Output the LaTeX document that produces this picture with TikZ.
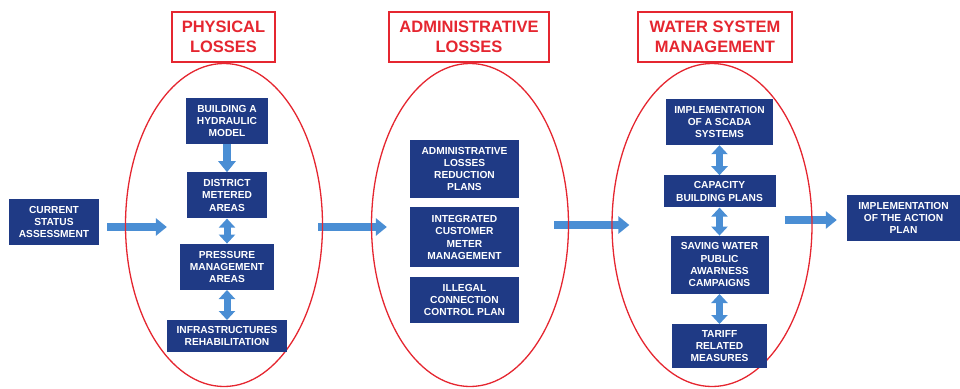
\documentclass[tikz,border=0pt]{standalone}
\usepackage{fontspec}
\setmainfont{Liberation Sans}
\usepackage{xcolor}
\usepackage{tikz}
\usetikzlibrary{backgrounds}
\usetikzlibrary{positioning}
\usetikzlibrary{shapes.geometric}
\usetikzlibrary{arrows.meta}
\usetikzlibrary{calc}
\definecolor{boxblue}{HTML}{1F3A85}
\definecolor{arrblue}{HTML}{4A8ED4}
\definecolor{lossred}{HTML}{E52630}
\tikzset{blk/.style={fill=boxblue, text=white, font=\fontsize{10.2}{12.3}\selectfont\bfseries, align=center, inner sep=2pt, minimum height=46pt}}
\tikzset{ttl/.style={draw=lossred, line width=1.5pt, text=lossred, font=\fontsize{16.5}{20}\selectfont\bfseries, align=center, minimum height=50pt, inner sep=2pt}}
\tikzset{oval/.style={draw=lossred, line width=1.3pt, ellipse, inner sep=0pt, minimum width=197pt, minimum height=323pt}}
\tikzset{bigarr/.style={draw=arrblue, line width=7.5pt, -{Triangle[length=11pt, width=17pt]}}}
\tikzset{dblarr/.style={draw=arrblue, line width=7pt, {Triangle[length=9pt, width=16pt]}-{Triangle[length=9pt, width=16pt]}}}

\begin{document}
\begin{tikzpicture}[x=1pt, y=-1pt]
\useasboundingbox (0,0) rectangle (960,388);
% ovals and titles
\node [oval] (e1) at (224,225) {};
\node [oval] (e2) at (470,225) {};
\node [oval, minimum width=200pt] (e3) at (712,225) {};
\node [ttl, minimum width=103pt] (t1) at (223.5,37) {PHYSICAL\\LOSSES};
\node [ttl, minimum width=160pt] (t2) at (469,37) {ADMINISTRATIVE\\LOSSES};
\node [ttl, minimum width=154pt] (t3) at (715,37) {WATER SYSTEM\\MANAGEMENT};
% outer boxes
\node [blk, minimum width=90pt] (cur) at (54,222) {CURRENT\\STATUS\\ASSESSMENT};
\node [blk, minimum width=113pt] (impl) at (903.5,218) {IMPLEMENTATION\\OF THE ACTION\\PLAN};
% physical
\node [blk, minimum width=82pt] (b1) at (227,121) {BUILDING A\\HYDRAULIC\\MODEL};
\node [blk, minimum width=80pt, below=28pt of b1] (b2) {DISTRICT\\METERED\\AREAS};
\node [blk, minimum width=94pt, below=25pt of b2] (b3) {PRESSURE\\MANAGEMENT\\AREAS};
\node [blk, minimum width=120pt, minimum height=32pt, below=30pt of b3] (b4) {INFRASTRUCTURES\\REHABILITATION};
% administrative
\node [blk, minimum width=109pt, minimum height=58pt] (a1) at (464.5,169) {ADMINISTRATIVE\\LOSSES\\REDUCTION\\PLANS};
\node [blk, minimum width=109pt, minimum height=60pt, below=9pt of a1] (a2) {INTEGRATED\\CUSTOMER\\METER\\MANAGEMENT};
\node [blk, minimum width=109pt, below=9pt of a2] (a3) {ILLEGAL\\CONNECTION\\CONTROL PLAN};
% water system
\node [blk, minimum width=107pt] (w1) at (719.5,122) {IMPLEMENTATION\\OF A SCADA\\SYSTEMS};
\node [blk, minimum width=112pt, minimum height=32pt, below=30pt of w1] (w2) {CAPACITY\\BUILDING PLANS};
\node [blk, minimum width=98pt, minimum height=58pt, below=28pt of w2] (w3) {SAVING WATER\\PUBLIC\\AWARNESS\\CAMPAIGNS};
\node [blk, minimum width=95pt, minimum height=44pt, below=30pt of w3] (w4) {TARIFF\\RELATED\\MEASURES};
\begin{scope}[on background layer]
\draw [bigarr] ($(cur.east)+(8,5)$) -- ($(cur.east -| e1.west)+(42,5)$);
\draw [bigarr] ($(e1.east)+(-5,2)$) -- ($(e2.west)+(16,2)$);
\draw [bigarr] ($(e2.east)+(-15,0)$) -- ($(e3.west)+(18,0)$);
\draw [bigarr] ($(impl.west -| e3.east)+(-28,2)$) -- ($(impl.west)+(-10,2)$);
\draw [bigarr] (b1.south) -- (b2.north);
\draw [dblarr] (b2.south) -- (b3.north);
\draw [dblarr] (b3.south) -- (b4.north);
\draw [dblarr] (w1.south) -- (w2.north);
\draw [dblarr] (w2.south) -- (w3.north);
\draw [dblarr] (w3.south) -- (w4.north);
\end{scope}
\end{tikzpicture}
\end{document}
